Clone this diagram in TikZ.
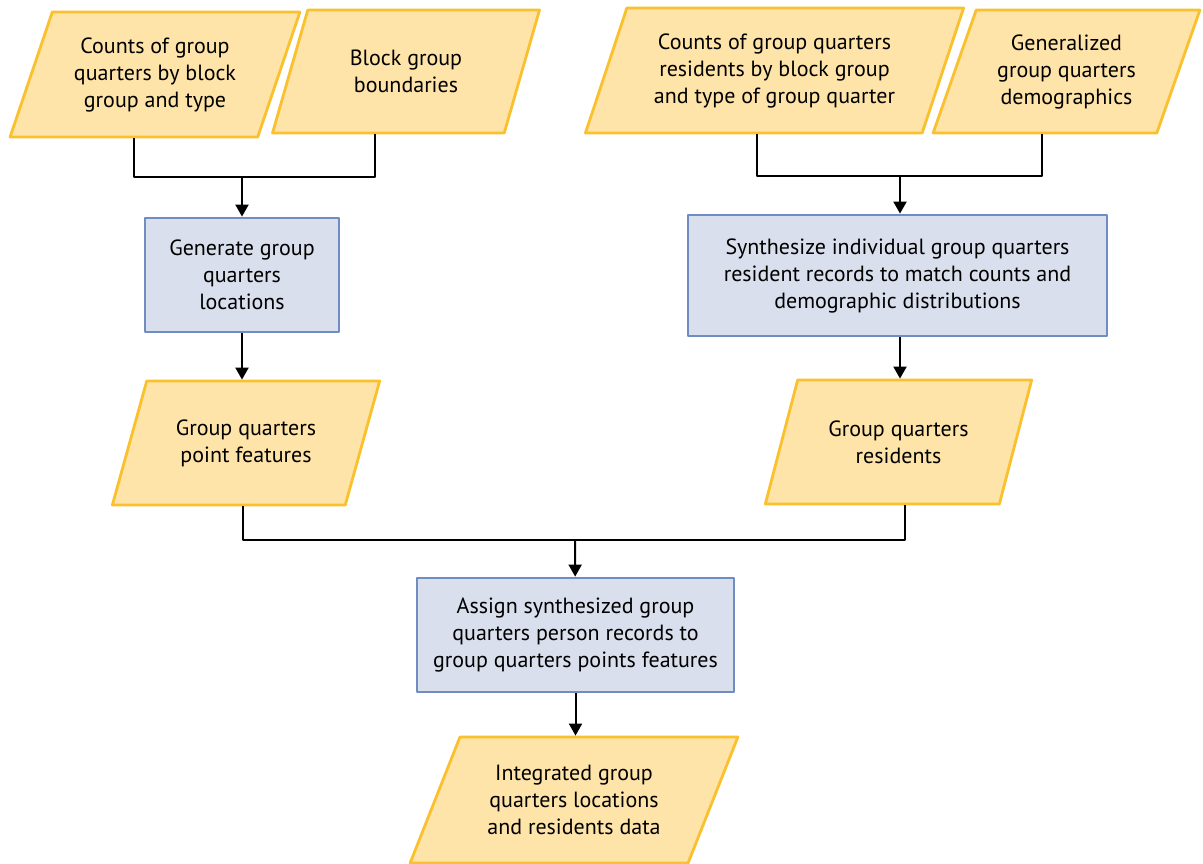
\documentclass[tikz,border=0pt]{standalone}
\usepackage{fontspec}
\setmainfont{PT Sans}
\usetikzlibrary{shapes.geometric,arrows.meta}
\definecolor{dataFill}{RGB}{254,228,168}
\definecolor{dataLine}{RGB}{250,192,45}
\definecolor{procFill}{RGB}{217,223,236}
\definecolor{procLine}{RGB}{112,140,192}
\begin{document}
\begin{tikzpicture}[x=0.5pt, y=-0.5pt, font=\fontsize{11}{13.5}\selectfont, line join=round, >={Triangle[length=6pt,width=6.5pt]}]
			\tikzset{dulieu/.style={trapezium, trapezium left angle=67, trapezium right angle=113, trapezium stretches=true, draw=dataLine, fill=dataFill, line width=1.4pt, align=center, inner sep=2pt},
				xuly/.style={rectangle, draw=procLine, fill=procFill, line width=1.4pt, align=center, inner sep=2pt},
				noi/.style={line width=1pt}}
			\useasboundingbox (0,0) rectangle (1203,863);
			% hang tren
			\node[dulieu, minimum width=145pt, minimum height=62.5pt] (p1) at (155,74.5) {Counts of group\\quarters by block\\group and type};
			\node[dulieu, minimum width=134pt, minimum height=61.5pt] (p2) at (406,71.5) {Block group\\boundaries};
			\node[dulieu, minimum width=189.5pt, minimum height=62.5pt] (p3) at (774.5,70.5) {Counts of group quarters\\residents by block group\\and type of group quarter};
			\node[dulieu, minimum width=133.5pt, minimum height=61.5pt] (p4) at (1066.5,71.5) {Generalized\\group quarters\\demographics};
			% xu ly
			\node[xuly, minimum width=97pt, minimum height=57pt] (b1) at (242,275) {Generate group\\quarters\\locations};
			\node[xuly, minimum width=209.5pt, minimum height=60.5pt] (b2) at (897.5,275.5) {Synthesize individual group quarters\\resident records to match counts and\\demographic distributions};
			\node[dulieu, trapezium left angle=65, trapezium right angle=115, minimum width=134pt, minimum height=62pt] (p5) at (246,443) {Group quarters\\point features};
			\node[dulieu, trapezium left angle=65, trapezium right angle=115, minimum width=133.5pt, minimum height=62pt] (p6) at (898.5,442) {Group quarters\\residents};
			\node[xuly, minimum width=158.5pt, minimum height=57pt] (b3) at (575.5,635) {Assign synthesized group\\quarters person records to\\group quarters points features};
			\node[dulieu, trapezium left angle=63, trapezium right angle=117, minimum width=164pt, minimum height=63pt] (p7) at (574,800) {Integrated group\\quarters locations\\and residents data};
			% duong noi
			\coordinate (j1) at (242,177);
			\coordinate (j2) at (900,176);
			\coordinate (j3) at (575,540);
			\draw[noi] ([xshift=-10.5pt]p1.south) |- (j1) -| ([xshift=-15.5pt]p2.south);
			\draw[noi,->] (j1) -- (b1);
			\draw[noi,->] (b1.south) -- (b1.south |- p5.north);
			\draw[noi] ([xshift=-9pt]p3.south) |- (j2) -| ([xshift=-12.5pt]p4.south);
			\draw[noi,->] (j2) -- (j2 |- b2.north);
			\draw[noi,->] (b2.south -| j2) -- (j2 |- p6.north);
			\draw[noi] ([xshift=-1.5pt]p5.south) |- (j3) -| ([xshift=3pt]p6.south);
			\draw[noi,->] (j3) -- (b3);
			\draw[noi,->] (b3.south) -- (b3.south |- p7.north);
			
		\end{tikzpicture}
\end{document}
